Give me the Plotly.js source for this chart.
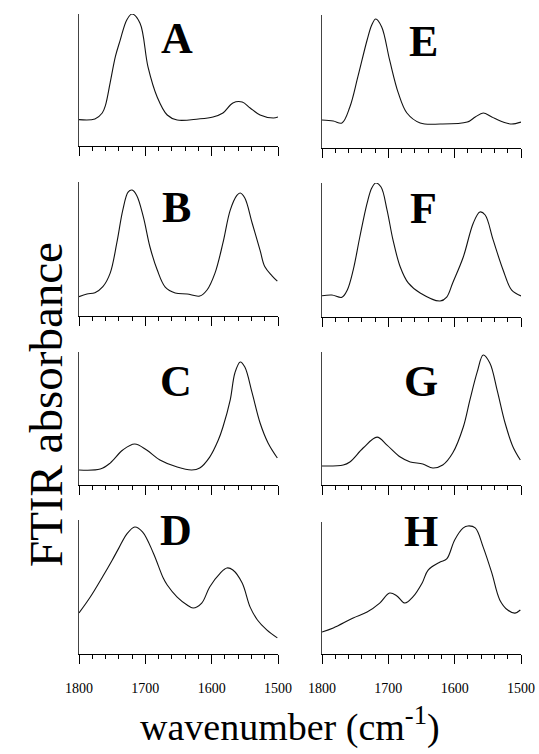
<!DOCTYPE html>
<html>
<head>
<meta charset="utf-8">
<script src="https://cdn.plot.ly/plotly-3.0.1.min.js"></script>
<style>html,body{margin:0;padding:0;background:#fff;}#chart{width:539px;height:754px;}</style>
</head>
<body>
<div id="chart"></div>
<script>
// ---- data (wavenumber in cm-1, relative absorbance) ----
const panelLabels = ["A","B","C","D","E","F","G","H"];
const tickVals = [1800, 1700, 1600, 1500];
const tickText = ["1800", "1700", "1600", "1500"];

const wnA  = [1800,1776,1765,1760,1753,1745,1738,1728,1720,1708,1696,1682,1667,1652,1620,1598,1583,1568,1554,1542,1527,1507,1500];
const absA = [0.20,0.205,0.25,0.31,0.48,0.68,0.80,0.955,1.0,0.93,0.60,0.37,0.235,0.197,0.205,0.22,0.25,0.326,0.333,0.288,0.235,0.212,0.22];

const wnB  = [1800,1788,1776,1764,1753,1743,1734,1726,1720,1713,1703,1693,1682,1670,1655,1637,1618,1607,1595,1583,1572,1562,1557,1550,1539,1527,1520,1509,1501];
const absB = [0.144,0.164,0.174,0.219,0.32,0.545,0.79,0.925,0.94,0.90,0.74,0.515,0.343,0.216,0.172,0.164,0.149,0.194,0.32,0.545,0.79,0.90,0.918,0.88,0.694,0.49,0.37,0.30,0.26];

const wnC  = [1800,1768,1753,1734,1716,1698,1678,1652,1630,1618,1603,1590,1583,1572,1565,1557,1550,1539,1527,1515,1501];
const absC = [0.113,0.12,0.165,0.263,0.308,0.263,0.188,0.135,0.113,0.128,0.21,0.338,0.436,0.64,0.842,0.925,0.887,0.692,0.466,0.316,0.203];

const wnD  = [1800,1783,1764,1750,1740,1728,1716,1704,1688,1673,1667,1652,1637,1628,1615,1603,1587,1577,1568,1554,1542,1531,1517,1501];
const absD = [0.306,0.425,0.58,0.70,0.79,0.895,0.948,0.91,0.754,0.567,0.515,0.425,0.366,0.343,0.38,0.50,0.604,0.642,0.627,0.53,0.35,0.254,0.18,0.12];

const wnE  = [1800,1783,1770,1758,1746,1732,1725,1719,1710,1698,1685,1672,1652,1622,1581,1569,1557,1544,1527,1514,1500];
const absE = [0.21,0.203,0.188,0.308,0.534,0.812,0.925,0.97,0.91,0.66,0.414,0.263,0.188,0.18,0.195,0.233,0.263,0.233,0.195,0.18,0.195];

const wnF  = [1800,1785,1770,1762,1753,1743,1732,1725,1719,1711,1702,1693,1682,1670,1652,1622,1612,1603,1587,1572,1562,1554,1542,1527,1514,1500];
const absF = [0.159,0.164,0.147,0.20,0.35,0.597,0.85,0.963,1.0,0.97,0.80,0.575,0.373,0.254,0.179,0.119,0.149,0.254,0.448,0.70,0.784,0.761,0.575,0.351,0.20,0.157];

const wnG  = [1800,1768,1758,1738,1717,1702,1682,1667,1648,1633,1618,1603,1587,1577,1566,1557,1547,1536,1524,1512,1501];
const absG = [0.143,0.15,0.173,0.278,0.36,0.30,0.21,0.173,0.158,0.128,0.15,0.24,0.436,0.64,0.85,0.977,0.917,0.714,0.466,0.286,0.188];

const wnH  = [1800,1783,1753,1732,1713,1698,1687,1675,1663,1649,1640,1622,1612,1600,1587,1580,1569,1557,1544,1532,1520,1509,1501];
const absH = [0.167,0.197,0.273,0.318,0.386,0.462,0.44,0.386,0.432,0.538,0.636,0.697,0.72,0.864,0.955,0.97,0.955,0.81,0.614,0.41,0.333,0.31,0.333];

const series = [[wnA,absA],[wnB,absB],[wnC,absC],[wnD,absD],[wnE,absE],[wnF,absF],[wnG,absG],[wnH,absH]];

// ---- layout geometry (pixels) ----
const W = 539, H = 754;
const colX = [[79,278],[322,521]];
const rowY = [[[14,146],[182,316],[352,485],[520,654]], [[15,148],[183,317],[352,485],[522,654]]];
const labelPos = [[177,38],[176,207],[176,381],[176,530],[423,41],[423,208],[421,381],[421,531]];

const serif = "Liberation Serif, Times New Roman, serif";
const traces = [];
const layout = {
  width: W, height: H,
  margin: {l:0, r:0, t:0, b:0},
  paper_bgcolor: "#fff", plot_bgcolor: "#fff",
  showlegend: false,
  annotations: [],
  font: {family: serif, color: "#000"}
};

for (let i = 0; i < 8; i++) {
  const col = i < 4 ? 0 : 1;
  const row = i % 4;
  const k = i + 1;
  const xa = "xaxis" + (k === 1 ? "" : k);
  const ya = "yaxis" + (k === 1 ? "" : k);
  traces.push({
    x: series[i][0], y: series[i][1],
    xaxis: "x" + (k === 1 ? "" : k), yaxis: "y" + (k === 1 ? "" : k),
    type: "scatter", mode: "lines",
    line: {color: "#111", width: 1.1, shape: "spline", smoothing: 1.0},
    hoverinfo: "skip"
  });
  const [x0, x1] = colX[col];
  const [yt, yb] = rowY[col][row];
  layout[xa] = {
    domain: [x0 / W, x1 / W],
    anchor: "y" + (k === 1 ? "" : k),
    range: [1800, 1500],
    tickmode: "array", tickvals: tickVals, ticktext: tickText,
    ticks: "outside", ticklen: 9, tickwidth: 1, tickcolor: "#000",
    minor: {tickmode: "linear", tick0: 1800, dtick: 20, ticks: "outside", ticklen: 4, tickwidth: 1, tickcolor: "#000", showgrid: false},
    showline: true, linecolor: "#000", linewidth: 1,
    showgrid: false, zeroline: false,
    showticklabels: row === 3,
    ticklabelstandoff: 12,
    tickfont: {family: serif, size: 14, color: "#000"},
    fixedrange: true
  };
  layout[ya] = {
    domain: [1 - yb / H, 1 - yt / H],
    anchor: "x" + (k === 1 ? "" : k),
    range: [0, 1.0],
    showline: true, linecolor: "#444", linewidth: 1,
    showgrid: false, zeroline: false,
    ticks: "", showticklabels: false,
    fixedrange: true
  };
  layout.annotations.push({
    xref: "paper", yref: "paper",
    x: labelPos[i][0] / W, y: 1 - labelPos[i][1] / H,
    xanchor: "center", yanchor: "middle",
    text: "<b>" + panelLabels[i] + "</b>",
    showarrow: false,
    font: {family: serif, size: 44, color: "#000"}
  });
}

layout.annotations.push({
  xref: "paper", yref: "paper",
  x: 46 / W, y: 1 - 405 / H,
  xanchor: "center", yanchor: "middle",
  textangle: -90,
  text: "FTIR absorbance",
  showarrow: false,
  font: {family: serif, size: 47, color: "#000"}
});
layout.annotations.push({
  xref: "paper", yref: "paper",
  x: 290 / W, y: 1 - 724 / H,
  xanchor: "center", yanchor: "middle",
  text: "wavenumber (cm<sup>-1</sup>)",
  showarrow: false,
  font: {family: serif, size: 38, color: "#000"}
});

Plotly.newPlot("chart", traces, layout, {staticPlot: true, displayModeBar: false});
</script>
</body>
</html>
